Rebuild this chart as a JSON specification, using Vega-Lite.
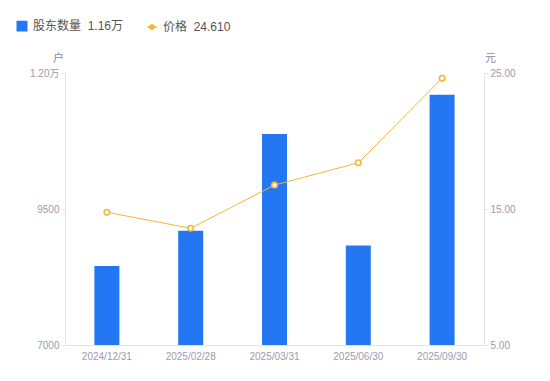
{
  "$schema": "https://vega.github.io/schema/vega-lite/v6.json",
  "width": 419,
  "height": 272,
  "autosize": "none",
  "padding": {"left": 65, "top": 73, "right": 66, "bottom": 36},
  "background": "white",
  "config": {
    "view": {"stroke": null},
    "font": "Liberation Sans, Noto Sans CJK SC, sans-serif",
    "axis": {"grid": false, "labelColor": "#9b9bab", "labelFontSize": 10, "domainColor": "#e3e3ea", "tickColor": "#e3e3ea", "titleColor": "#8a8a99", "titleFontWeight": "normal", "titleFontSize": 11}
  },
  "data": {"values": [
    {"date": "2024/12/31", "count": 8450, "price": 14.76},
    {"date": "2025/02/28", "count": 9100, "price": 13.58},
    {"date": "2025/03/31", "count": 10880, "price": 16.76},
    {"date": "2025/06/30", "count": 8830, "price": 18.40},
    {"date": "2025/09/30", "count": 11600, "price": 24.61}
  ]},
  "encoding": {
    "x": {"field": "date", "type": "nominal", "sort": null, "scale": {"paddingInner": 0, "paddingOuter": 0},
      "axis": {"title": null, "labelAngle": 0, "ticks": false, "labelPadding": 6, "domainColor": "#e3e3ea"}}
  },
  "layer": [
    {
      "mark": {"type": "bar", "width": 25, "clip": true},
      "encoding": {
        "y": {"field": "count", "type": "quantitative", "scale": {"domain": [7000, 12000], "nice": false, "zero": false},
          "axis": {"values": [7000, 9500, 12000], "tickSize": 4, "labelExpr": "datum.value >= 10000 ? format(datum.value/10000, '.2f') + '万' : format(datum.value, 'd')", "title": "户", "titleAngle": 0, "titleAnchor": "end", "titleAlign": "center", "titleBaseline": "bottom", "titleX": -7, "titleY": -10}},
        "y2": {"datum": 7000},
        "color": {"datum": "股东数量", "type": "nominal",
          "scale": {"domain": ["股东数量", "价格"], "range": ["#2477f2", "#f7b538"]},
          "legend": {
            "orient": "none", "legendX": -49, "legendY": -53, "direction": "horizontal", "title": null,
            "labelFontSize": 12, "labelColor": "#555555", "columnPadding": 20, "symbolSize": 90, "labelOffset": 5,
            "labelExpr": "datum.label == '价格' ? '价格\u00a0\u00a024.610' : '股东数量\u00a0\u00a01.16万'",
            "encode": {"symbols": {"update": {
              "shape": {"signal": "datum.value == '价格' ? 'M-1,0H-0.45M0.45,0H1M-0.45,0A0.45,0.45 0 1 0 0.45,0A0.45,0.45 0 1 0 -0.45,0' : 'square'"},
              "fill": {"signal": "datum.value == '价格' ? 'white' : '#2477f2'"},
              "stroke": {"signal": "datum.value == '价格' ? '#f7b538' : '#2477f2'"},
              "strokeWidth": {"value": 1.5}
            }}}
          }}
      }
    },
    {
      "encoding": {
        "y": {"field": "price", "type": "quantitative", "scale": {"domain": [5, 25], "nice": false, "zero": false},
          "axis": {"orient": "right", "values": [5, 15, 25], "format": ".2f", "tickSize": 4, "title": "元", "titleAngle": 0, "titleAnchor": "end", "titleAlign": "center", "titleBaseline": "bottom", "titleX": 6, "titleY": -10}}
      },
      "layer": [
        {"mark": {"type": "line", "strokeWidth": 1}, "encoding": {"color": {"datum": "价格", "type": "nominal"}}},
        {"mark": {"type": "point", "filled": true, "fill": "white", "stroke": "#f7b538", "strokeWidth": 1.6, "size": 30, "opacity": 1}, "encoding": {}}
      ]
    }
  ],
  "resolve": {"scale": {"y": "independent"}}
}
